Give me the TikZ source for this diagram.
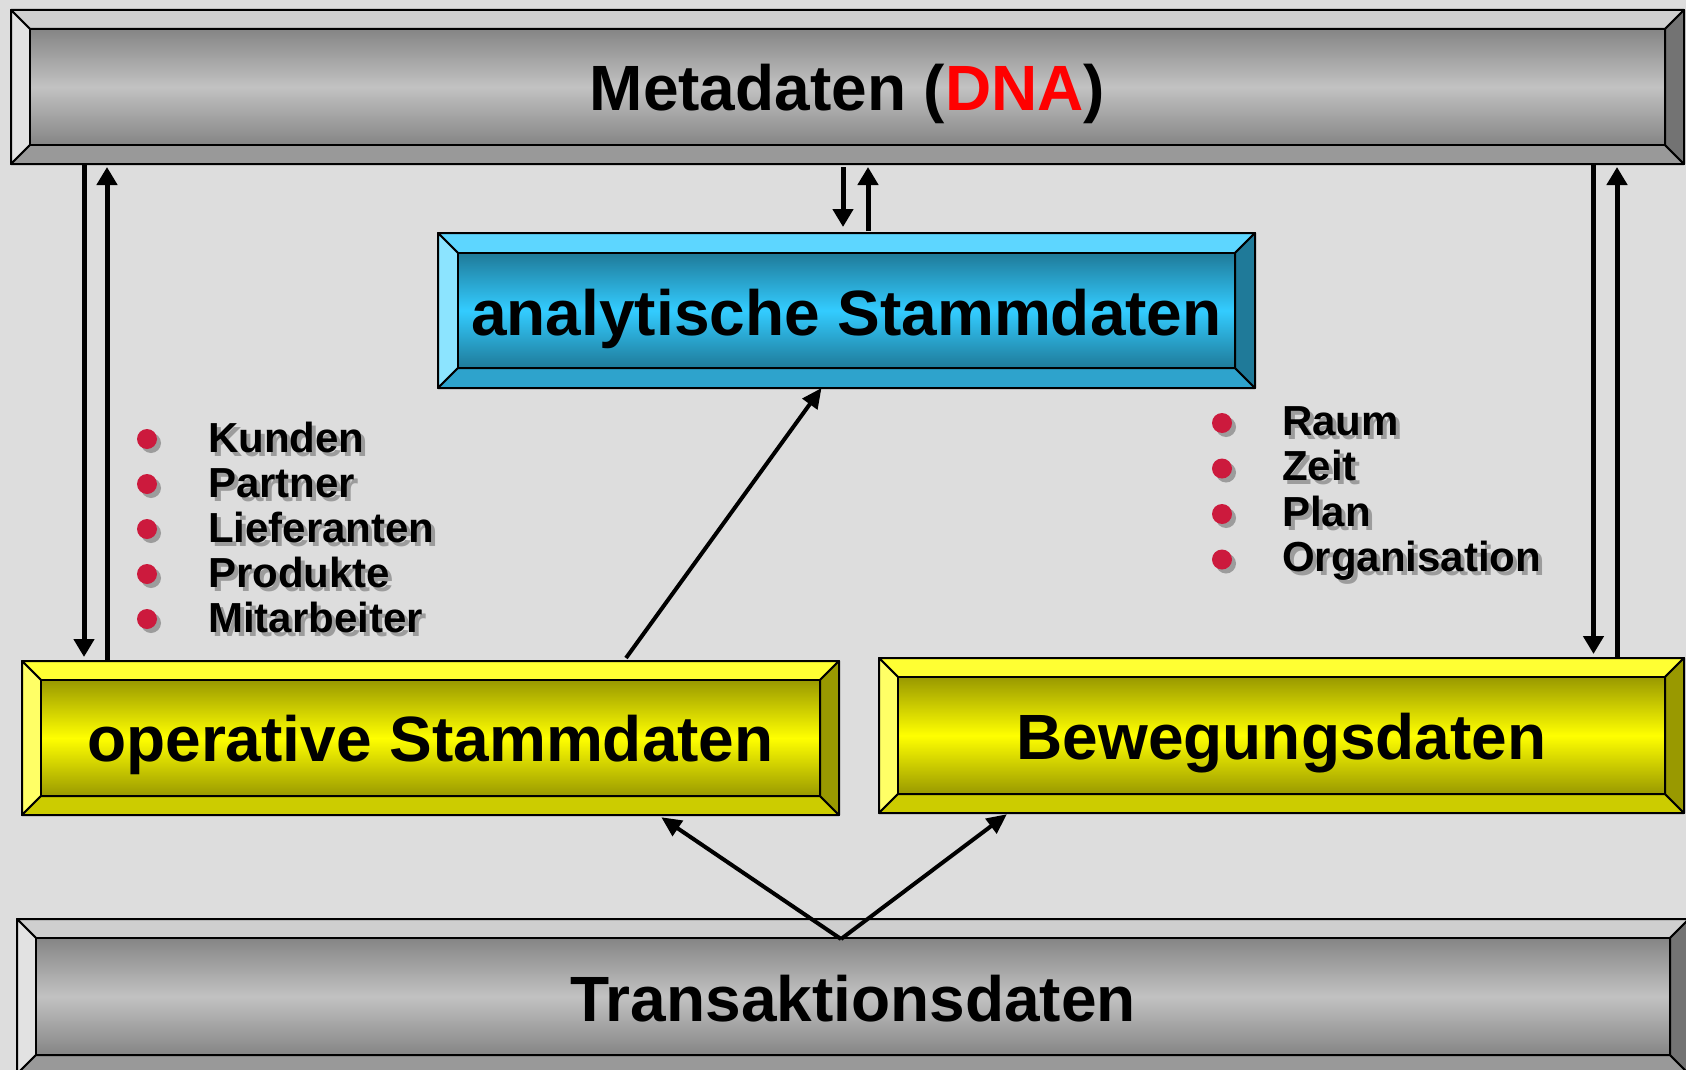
\documentclass[tikz,border=0pt]{standalone}
\usepackage{fontspec}
\setmainfont{Liberation Sans}
\usetikzlibrary{arrows.meta}
\definecolor{bg}{HTML}{DDDDDD}
\definecolor{grT}{HTML}{CFCFCF}
\definecolor{grL}{HTML}{E2E2E2}
\definecolor{grB}{HTML}{999999}
\definecolor{grR}{HTML}{737373}
\definecolor{grE}{HTML}{858585}
\definecolor{grM}{HTML}{C2C2C2}
\definecolor{cyT}{HTML}{5DD6FF}
\definecolor{cyL}{HTML}{8CE4FF}
\definecolor{cyB}{HTML}{2EA3CC}
\definecolor{cyR}{HTML}{1F7A99}
\definecolor{cyE}{HTML}{1F7A99}
\definecolor{cyM}{HTML}{33CCFF}
\definecolor{ylT}{HTML}{FFFF33}
\definecolor{ylL}{HTML}{FFFF66}
\definecolor{ylB}{HTML}{CCCC00}
\definecolor{ylR}{HTML}{999900}
\definecolor{ylE}{HTML}{999900}
\definecolor{ylM}{HTML}{FFFF00}
\definecolor{shadowgray}{HTML}{9C9C9C}
\definecolor{bulletred}{HTML}{CC1A3D}
\definecolor{dnared}{HTML}{FF0000}

% name x1 y1 x2 y2 bevel colourprefix
\newcommand{\bevbox}[7]{%
  \filldraw[fill=#7T,edge] (#2,#3) -- (#4,#3) -- ({#4-#6},{#3+#6}) -- ({#2+#6},{#3+#6}) -- cycle;
  \filldraw[fill=#7L,edge] (#2,#3) -- ({#2+#6},{#3+#6}) -- ({#2+#6},{#5-#6}) -- (#2,#5) -- cycle;
  \filldraw[fill=#7B,edge] (#2,#5) -- ({#2+#6},{#5-#6}) -- ({#4-#6},{#5-#6}) -- (#4,#5) -- cycle;
  \filldraw[fill=#7R,edge] (#4,#3) -- (#4,#5) -- ({#4-#6},{#5-#6}) -- ({#4-#6},{#3+#6}) -- cycle;
  \shade[top color=#7E,bottom color=#7E,middle color=#7M] ({#2+#6},{#3+#6}) rectangle ({#4-#6},{#5-#6});
  \draw[edge] ({#2+#6},{#3+#6}) rectangle ({#4-#6},{#5-#6});
  \pgfmathsetmacro\bxW{#4-#2}%
  \pgfmathsetmacro\bxH{#5-#3}%
  \node[inner sep=0pt,outer sep=0pt,minimum width=\bxW pt,minimum height=\bxH pt] (#1) at ({(#2+#4)/2},{(#3+#5)/2}) {};
}

% name x(baseline left) y(baseline) text bulletdx bulletdy
\newcommand{\bulletentry}[6]{%
  \fill[shadowgray] ({#2-#5+4},{#3-#6+4}) circle (10pt);
  \fill[bulletred] ({#2-#5},{#3-#6}) circle (10pt);
  \node[item,text=shadowgray] (#1s) at ({#2+4},{#3+4}) {#4};
  \node[item] (#1) at (#2,#3) {#4};
}

\begin{document}
\begin{tikzpicture}[x=1pt,y=-1pt,
  edge/.style={draw=black,line width=2pt,line join=round},
  arr/.style={line width=5pt,-{Triangle[width=20pt,length=18pt]}},
  darr/.style={line width=4pt,-{Triangle[width=18pt,length=20pt]}},
  lbl/.style={font=\bfseries\fontsize{64}{70}\selectfont,inner sep=0pt,anchor=base},
  item/.style={font=\bfseries\fontsize{42}{48}\selectfont,inner sep=0pt,anchor=base west}]
\useasboundingbox (0,0) rectangle (1686,1070);
\clip (0,0) rectangle (1686,1070);
\fill[bg] (0,0) rectangle (1686,1070);

% boxes
\bevbox{meta}{11}{10}{1684}{164}{19}{gr}
\bevbox{ana}{438}{233}{1255}{388}{20}{cy}
\bevbox{op}{22}{661}{839}{815}{19}{yl}
\bevbox{bew}{879}{658}{1684}{813}{19}{yl}
\bevbox{trans}{17}{919}{1689}{1074}{19}{gr}

% labels
\node[lbl] (metaT) at (847.5,111) {Metadaten (\textcolor{dnared}{DNA})};
\node[lbl] (anaT) at (846.5,335) {analytische Stammdaten};
\node[lbl] (opT) at (430.5,761) {operative Stammdaten};
\node[lbl] (bewT) at (1281.5,759) {Bewegungsdaten};
\node[lbl] (transT) at (853,1021) {Transaktionsdaten};

% bullet lists
\bulletentry{kunden}{208}{452}{Kunden}{61}{13}
\bulletentry{partner}{208}{497}{Partner}{61}{13}
\bulletentry{lief}{208}{542}{Lieferanten}{61}{13}
\bulletentry{prod}{208}{587}{Produkte}{61}{13}
\bulletentry{mitarb}{208}{632}{Mitarbeiter}{61}{13}
\bulletentry{raum}{1282}{435}{Raum}{60}{12}
\bulletentry{zeit}{1282}{480.5}{Zeit}{60}{12}
\bulletentry{plan}{1282}{526}{Plan}{60}{12}
\bulletentry{orga}{1282}{571.5}{Organisation}{60}{12}

% vertical arrows
\draw[arr,shorten >=4pt] ([xshift=73pt]meta.south west) -- ([xshift=62pt]op.north west);
\draw[arr,shorten >=3pt] ([xshift=85pt]op.north west) -- ([xshift=96pt]meta.south west);
\draw[arr,shorten >=4pt] ([xshift=1582.5pt]meta.south west) -- ([xshift=714.5pt]bew.north west);
\draw[arr,shorten >=3pt] ([xshift=738pt]bew.north west) -- ([xshift=1606pt]meta.south west);
\draw[arr,shorten <=3pt,shorten >=6pt] ([xshift=832pt]meta.south west) -- ([xshift=405pt]ana.north west);
\draw[arr,shorten <=2pt,shorten >=3pt] ([xshift=430pt]ana.north west) -- ([xshift=857pt]meta.south west);

% diagonal arrows
\draw[darr] ([xshift=604pt,yshift=3pt]op.north west) -- ([xshift=383.5pt]ana.south west);
\coordinate (apex) at ([xshift=824pt,yshift=-20pt]trans.north west);
\draw[darr,shorten >=4pt] (apex) -- ([xshift=636pt]op.south west);
\draw[darr,shorten >=2pt] (apex) -- ([xshift=129.5pt]bew.south west);
\end{tikzpicture}
\end{document}
